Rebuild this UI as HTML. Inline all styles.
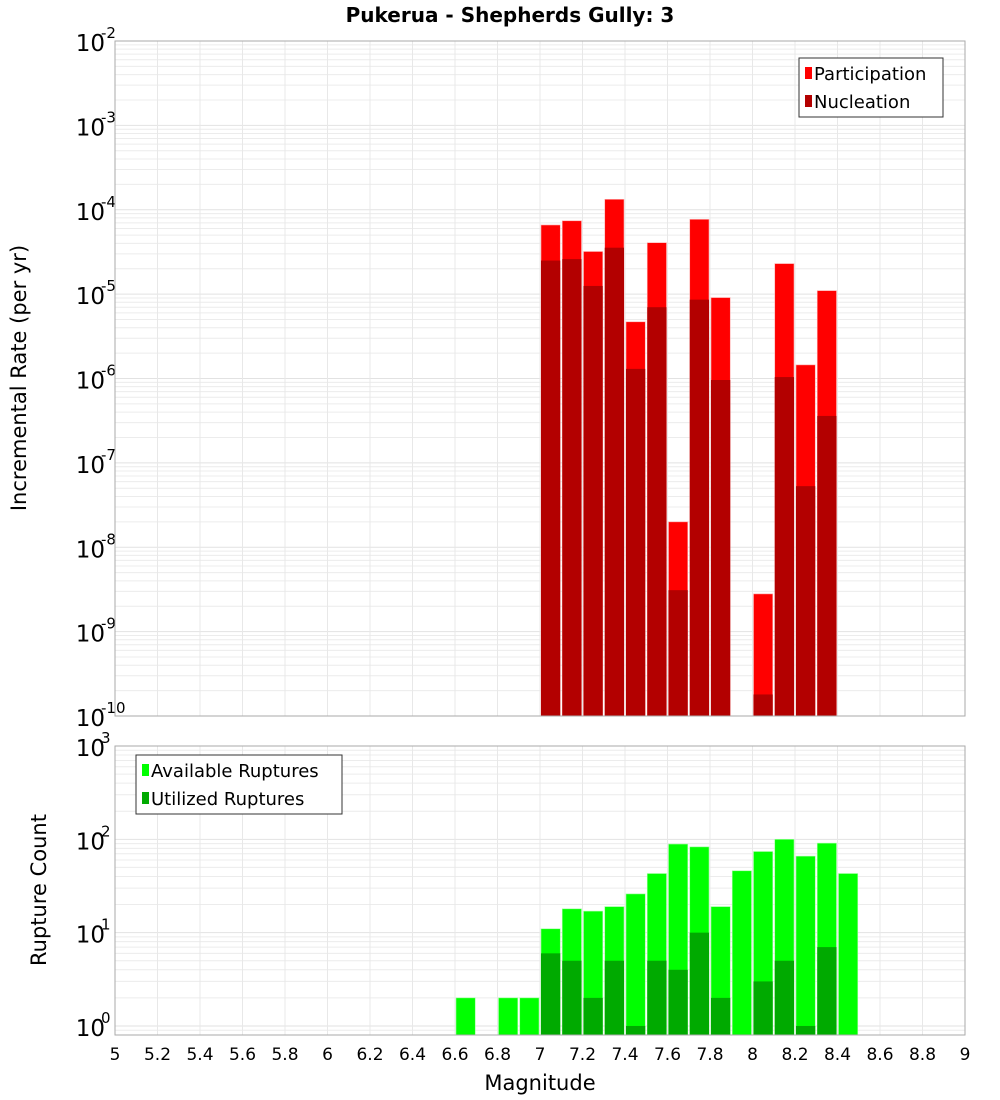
<!DOCTYPE html>
<html><head><meta charset="utf-8"><style>
html,body{margin:0;padding:0;background:#fff;}
svg{display:block;font-family:"DejaVu Sans","Liberation Sans",sans-serif;}
</style></head><body>
<svg id="chart" width="1000" height="1100" viewBox="0 0 1000 1100">
<text x="510" y="22" text-anchor="middle" font-size="20" font-weight="bold" fill="#000">Pukerua - Shepherds Gully: 3</text>
<g id="top"></g>
<g id="bot"></g>
<text transform="translate(26,378) rotate(-90)" text-anchor="middle" font-size="21" fill="#000">Incremental Rate (per yr)</text>
<text transform="translate(46,890) rotate(-90)" text-anchor="middle" font-size="21" fill="#000">Rupture Count</text>
<text x="540" y="1090" text-anchor="middle" font-size="21" fill="#000">Magnitude</text>
</svg>
<script>
const rateMags = [7.05,7.15,7.25,7.35,7.45,7.55,7.65,7.75,7.85,8.05,8.15,8.25,8.35];
const participation = [6.6e-5,7.4e-5,3.2e-5,1.33e-4,4.7e-6,4.07e-5,2e-8,7.7e-5,9.1e-6,2.8e-9,2.3e-5,1.45e-6,1.1e-5];
const nucleation = [2.5e-5,2.6e-5,1.25e-5,3.55e-5,1.3e-6,7e-6,3.1e-9,8.6e-6,9.6e-7,1.8e-10,1.04e-6,5.3e-8,3.6e-7];
const countMags = [6.65,6.85,6.95,7.05,7.15,7.25,7.35,7.45,7.55,7.65,7.75,7.85,7.95,8.05,8.15,8.25,8.35,8.45];
const available = [2,2,2,11,18,17,19,26,43,89,83,19,46,74,100,66,91,43];
const utilized = [0,0,0,6,5,2,5,1,5,4,10,2,0,3,5,1,7,0];
const xTicks = [5,5.2,5.4,5.6,5.8,6,6.2,6.4,6.6,6.8,7,7.2,7.4,7.6,7.8,8,8.2,8.4,8.6,8.8,9];
const rateExps = [-10,-9,-8,-7,-6,-5,-4,-3,-2];
const countExps = [0,1,2,3];

const NS="http://www.w3.org/2000/svg";
const L=115,R=965;
const xs=m=>L+(m-5)/(4)*(R-L);
const bw=(R-L)/40;
function el(tag,attrs,parent){const e=document.createElementNS(NS,tag);for(const k in attrs)e.setAttribute(k,attrs[k]);parent.appendChild(e);return e;}
function panel(g,top,bot,lmin,lmax,exps,name){
  const ys=v=>bot-(Math.log10(v)-lmin)/(lmax-lmin)*(bot-top);
  el('rect',{x:L,y:top,width:R-L,height:bot-top,fill:'#fff'},g);
  // horizontal grid
  for(let e=Math.floor(lmin);e<lmax;e++){for(let k=1;k<10;k++){const v=Math.pow(10,e)*k;const lv=Math.log10(v);if(lv<lmin||lv>lmax)continue;
    const y=ys(v);const ln=el('line',{x1:L,x2:R,y1:y,y2:y,stroke:k===1?'#e2e2e2':'#ececec','stroke-width':1},g);
    }}
  xTicks.forEach(t=>{const x=xs(t);const ln=el('line',{x1:x,x2:x,y1:top,y2:bot,stroke:'#e8e8e8','stroke-width':1},g);
    });
  exps.forEach(e=>{const y=ys(Math.pow(10,e));
    const t=el('text',{x:105,y:y+10,'text-anchor':'end','font-size':23,fill:'#000'},g);
    
    t.textContent='10';
    const s=el('text',{x:101,y:y-3,'font-size':15,fill:'#000'},g);
    
    s.textContent=String(e);});
  return ys;
}
const gt=document.getElementById('top'), gb=document.getElementById('bot');
const ysT=panel(gt,41,716,-10,-2,rateExps,'rate');
rateMags.forEach((m,i)=>{
  const x=xs(m)-bw/2;
  let y=ysT(participation[i]);
  const r=el('rect',{x:x+1,y:y,width:bw-2,height:716-y,fill:'#ff0000',stroke:'#ffb0b0','stroke-width':0.6},gt);
  
  y=ysT(nucleation[i]);
  const n=el('rect',{x:x+1,y:y,width:bw-2,height:716-y,fill:'#b30000'},gt);
  
});
el('rect',{x:L,y:41,width:R-L,height:675,fill:'none',stroke:'#aaa','stroke-width':1},gt);
const ysB=panel(gb,746,1035,Math.log10(0.8),3,countExps,'count');
countMags.forEach((m,i)=>{
  const x=xs(m)-bw/2;
  let y=ysB(available[i]);
  const r=el('rect',{x:x+1,y:y,width:bw-2,height:1035-y,fill:'#00ff00',stroke:'#a0ffa0','stroke-width':0.6},gb);
  
  if(utilized[i]>0){y=ysB(utilized[i]);
  const u=el('rect',{x:x+1,y:y,width:bw-2,height:1035-y,fill:'#00aa00'},gb);
  }
});
el('rect',{x:L,y:746,width:R-L,height:289,fill:'none',stroke:'#aaa','stroke-width':1},gb);
xTicks.forEach(t=>{const tx=el('text',{x:xs(t),y:1060,'text-anchor':'middle','font-size':17,fill:'#000'},gb);
  tx.textContent=String(t);});
function legend(g,x,y,w,items,name){
  const lg=el('g',{},g);
  el('rect',{x:x,y:y,width:w,height:59,fill:'#fff',stroke:'#333','stroke-width':1},lg);
  items.forEach((it,i)=>{const cy=y+15+i*28;
    const sq=el('rect',{x:x+6,y:cy-6,width:7,height:12,fill:it[1]},lg);
    
    const t=el('text',{x:x+15,y:cy+7,'font-size':18,fill:'#000'},lg);
    t.textContent=it[0];});
}
legend(gt,799,58,144,[['Participation','#ff0000'],['Nucleation','#b30000']],'rate-legend');
legend(gb,136,755,206,[['Available Ruptures','#00ff00'],['Utilized Ruptures','#00aa00']],'count-legend');
</script>
</body></html>
